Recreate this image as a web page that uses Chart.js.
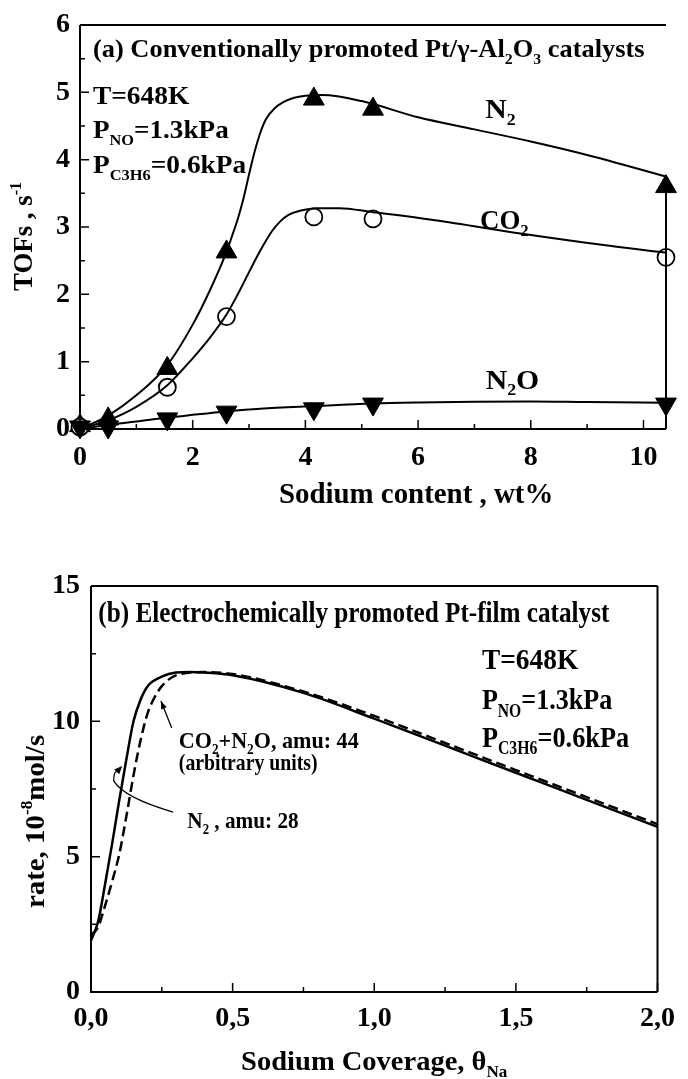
<!DOCTYPE html>
<html><head><meta charset="utf-8">
<script src="https://cdn.jsdelivr.net/npm/chart.js@4.4.1/dist/chart.umd.min.js"></script>
<style>
html,body{margin:0;padding:0;background:#fff;}
#wrap{position:relative;width:688px;height:1079px;overflow:hidden;background:#fff;}
.c{position:absolute;left:0;width:688px;}
</style></head><body>
<div id="wrap">
<div class="c" style="top:0;height:520px"><canvas id="ca"></canvas></div>
<div class="c" style="top:540px;height:539px"><canvas id="cb"></canvas></div>
</div>
<script>
// ---------- data: panel (a) ----------
const naContent = [0, 0.5, 1.55, 2.6, 4.15, 5.2, 10.4];
const n2Tof  = [0.05, 0.15, 0.9, 2.63, 4.9, 4.75, 3.6];
const co2Tof = [0.03, null, 0.62, 1.67, 3.15, 3.12, 2.55];
const n2oTof = [0.03, 0.03, 0.15, 0.25, 0.3, 0.37, 0.37];

const n2FitX  = [0, 0.5, 1.0, 1.55, 2.0, 2.3, 2.6, 2.7, 2.8, 2.9, 3.0, 3.1, 3.2, 3.3, 3.45, 3.6, 3.8, 4.0, 4.3, 5.0, 6.0, 7.0, 8.0, 9.0, 10.4];
const n2FitY  = [0, 0.2, 0.5, 0.95, 1.55, 2.05, 2.63, 2.87, 3.12, 3.42, 3.78, 4.12, 4.4, 4.6, 4.76, 4.85, 4.92, 4.95, 4.96, 4.87, 4.63, 4.45, 4.27, 4.07, 3.75];
const co2FitX = [0, 0.5, 1.0, 1.55, 2.0, 2.3, 2.6, 2.8, 3.0, 3.2, 3.4, 3.55, 3.7, 3.9, 4.2, 4.6, 5.2, 6.3, 7.85, 9.4, 10.4];
const co2FitY = [0, 0.13, 0.33, 0.65, 1.05, 1.35, 1.7, 2.0, 2.33, 2.65, 2.93, 3.08, 3.18, 3.24, 3.28, 3.28, 3.22, 3.1, 2.9, 2.72, 2.62];
const n2oFitX = [0, 0.5, 1.0, 1.55, 2.0, 2.6, 3.2, 4.15, 5.2, 6.0, 7.0, 8.0, 9.0, 10.4];
const n2oFitY = [0, 0.06, 0.11, 0.17, 0.21, 0.26, 0.3, 0.34, 0.38, 0.395, 0.405, 0.41, 0.4, 0.39];

const xTicksA = [0, 2, 4, 6, 8, 10];
const xMinorA = [1, 3, 5, 7, 9];
const yTicksA = [0, 1, 2, 3, 4, 5, 6];
const yMinorA = [0.5, 1.5, 2.5, 3.5, 4.5, 5.5];

// ---------- data: panel (b) ----------
const n2RateX  = [0, 0.025, 0.05, 0.075, 0.1, 0.125, 0.15, 0.175, 0.2, 0.25, 0.3, 0.35, 0.4, 0.5, 0.75, 1.0, 1.25, 1.5, 1.75, 2.0];
const n2RateY  = [1.9, 2.6, 4.0, 5.5, 7.1, 8.6, 10.0, 10.8, 11.3, 11.65, 11.8, 11.82, 11.8, 11.7, 11.05, 10.1, 9.1, 8.1, 7.1, 6.1];
const co2RateX = [0, 0.025, 0.05, 0.075, 0.1, 0.125, 0.15, 0.175, 0.2, 0.225, 0.25, 0.275, 0.3, 0.35, 0.4, 0.5, 0.75, 1.0, 1.25, 1.5, 1.75, 2.0];
const co2RateY = [2.1, 2.4, 3.2, 4.1, 5.1, 6.5, 8.0, 9.3, 10.3, 10.9, 11.3, 11.55, 11.7, 11.8, 11.82, 11.75, 11.1, 10.2, 9.2, 8.2, 7.2, 6.2];

const xTicksB = [0, 0.5, 1.0, 1.5, 2.0];
const xMinorB = [0.25, 0.75, 1.25, 1.75];
const yTicksB = [0, 5, 10, 15];
const yMinorB = [2.5, 7.5, 12.5];

// ---------- helpers ----------
const FONT = '"Liberation Serif", "Times New Roman", serif';
const pts = (xs, ys) => xs.map((x, i) => ({x, y: ys[i]}));

function richWidth(ctx, segs, size) {
  let w = 0;
  for (const [t, k] of segs) {
    ctx.font = 'bold ' + (k ? size * 0.6 : size) + 'px ' + FONT;
    w += ctx.measureText(t).width;
  }
  return w;
}
function drawRich(ctx, segs, size, x, y, targetW, align, rot) {
  const w = richWidth(ctx, segs, size);
  const sx = targetW ? targetW / w : 1;
  ctx.save();
  ctx.translate(x, y);
  if (rot) ctx.rotate(rot);
  ctx.scale(sx, 1);
  let cx = align === 'center' ? -w / 2 : 0;
  ctx.fillStyle = '#000';
  ctx.textBaseline = 'alphabetic';
  ctx.textAlign = 'left';
  for (const [t, k] of segs) {
    const s = k ? size * 0.6 : size;
    ctx.font = 'bold ' + s + 'px ' + FONT;
    const dy = k === 'b' ? size * 0.25 : (k === 'p' ? -size * 0.42 : 0);
    ctx.fillText(t, cx, dy);
    cx += ctx.measureText(t).width;
  }
  ctx.restore();
}

function framePlugin(cfg) {
  return {
    id: 'frame_' + cfg.name,
    afterDraw(chart) {
      const ctx = chart.ctx, a = chart.chartArea;
      const xs = chart.scales.x, ys = chart.scales.y;
      ctx.save();
      ctx.strokeStyle = '#000';
      ctx.lineWidth = 2;
      ctx.beginPath();
      ctx.moveTo(a.left, a.top); ctx.lineTo(a.left, a.bottom); ctx.lineTo(a.right, a.bottom);
      ctx.moveTo(a.left, a.top); ctx.lineTo(a.right, a.top);
      if (cfg.fullBox) { ctx.moveTo(a.right, a.top); ctx.lineTo(a.right, a.bottom); }
      ctx.stroke();
      ctx.lineWidth = 1.5;
      ctx.beginPath();
      const tick = (vals, len, axis) => {
        for (const v of vals) {
          if (axis === 'x') { const p = xs.getPixelForValue(v); ctx.moveTo(p, a.bottom); ctx.lineTo(p, a.bottom - len); }
          else { const p = ys.getPixelForValue(v); ctx.moveTo(a.left, p); ctx.lineTo(a.left + len, p); }
        }
      };
      tick(cfg.xMaj, 9, 'x'); tick(cfg.xMin, 5, 'x');
      tick(cfg.yMaj, 9, 'y'); tick(cfg.yMin, 5, 'y');
      ctx.stroke();
      for (const t of cfg.texts) {
        if (t.rot) {
          const px = xs.getPixelForValue(t.x) + t.size * 0.35;
          const y0 = ys.getPixelForValue(t.y0), y1 = ys.getPixelForValue(t.y1);
          drawRich(ctx, t.segs, t.size, px, (y0 + y1) / 2, Math.abs(y0 - y1), 'center', -Math.PI / 2);
        } else {
          const x0 = xs.getPixelForValue(t.x0), x1 = xs.getPixelForValue(t.x1);
          drawRich(ctx, t.segs, t.size, x0, ys.getPixelForValue(t.y), x1 - x0, 'left');
        }
      }
      if (cfg.extra) cfg.extra(chart, ctx, xs, ys);
      ctx.restore();
    }
  };
}

function axisX(min, max, ticks, fmt, height, pad) {
  return {
    type: 'linear', min, max,
    afterBuildTicks: s => { s.ticks = ticks.map(v => ({value: v})); },
    afterFit: s => { s.height = height; },
    grid: {display: false, drawTicks: false},
    border: {display: false},
    ticks: {color: '#000', font: {family: FONT, size: 28, weight: 'bold', lineHeight: 1}, padding: pad,
            maxRotation: 0, autoSkip: false, callback: fmt}
  };
}
function axisY(min, max, ticks, width, pad) {
  return {
    type: 'linear', min, max,
    afterBuildTicks: s => { s.ticks = ticks.map(v => ({value: v})); },
    afterFit: s => { s.width = width; },
    grid: {display: false, drawTicks: false},
    border: {display: false},
    ticks: {color: '#000', font: {family: FONT, size: 28, weight: 'bold', lineHeight: 1}, padding: pad,
            autoSkip: false, callback: v => String(v)}
  };
}

const fitLine = (data) => ({type: 'line', data, borderColor: '#000', borderWidth: 2, pointRadius: 0,
  cubicInterpolationMode: 'monotone', fill: false, clip: false});

// ---------- panel (a) ----------
const textsA = [
  {segs: [['(a) Conventionally promoted Pt/γ-Al', ''], ['2', 'b'], ['O', ''], ['3', 'b'], [' catalysts', '']], x0: 0.23, x1: 10.02, y: 5.52, size: 26},
  {segs: [['T=648K', '']], x0: 0.23, x1: 1.94, y: 4.83, size: 26},
  {segs: [['P', ''], ['NO', 'b'], ['=1.3kPa', '']], x0: 0.23, x1: 2.64, y: 4.32, size: 26},
  {segs: [['P', ''], ['C3H6', 'b'], ['=0.6kPa', '']], x0: 0.23, x1: 2.95, y: 3.8, size: 26},
  {segs: [['N', ''], ['2', 'b']], x0: 7.19, x1: 7.73, y: 4.62, size: 27},
  {segs: [['CO', ''], ['2', 'b']], x0: 7.1, x1: 7.96, y: 2.97, size: 27},
  {segs: [['N', ''], ['2', 'b'], ['O', '']], x0: 7.2, x1: 8.15, y: 0.6, size: 27},
  {segs: [['Sodium content , wt%', '']], x0: 3.53, x1: 8.4, y: -1.1, size: 29},
  {rot: true, segs: [['TOFs , s', ''], ['-1', 'p']], x: -1.02, y0: 2.05, y1: 3.67, size: 28}
];

new Chart(document.getElementById('ca'), {
  data: {datasets: [
    fitLine(pts(n2FitX, n2FitY)),
    fitLine(pts(co2FitX, co2FitY)),
    fitLine(pts(n2oFitX, n2oFitY)),
    {type: 'line', data: [{x: naContent[6], y: 0}, {x: naContent[6], y: n2Tof[6]}], borderColor: '#000', borderWidth: 2, pointRadius: 0, clip: false},
    {type: 'scatter', data: pts(naContent, n2oTof).filter(p => p.y !== null), pointStyle: 'triangle', rotation: 180, pointRadius: 12,
      backgroundColor: '#000', borderColor: '#000', borderWidth: 1, clip: false},
    {type: 'scatter', data: pts(naContent, co2Tof).filter(p => p.y !== null), pointStyle: 'circle', pointRadius: 8.5,
      backgroundColor: '#fff', borderColor: '#000', borderWidth: 1.8, clip: false},
    {type: 'scatter', data: pts(naContent, n2Tof).filter(p => p.y !== null), pointStyle: 'triangle', pointRadius: 12,
      backgroundColor: '#000', borderColor: '#000', borderWidth: 1, clip: false}
  ]},
  options: {
    responsive: true, maintainAspectRatio: false, animation: false,
    layout: {padding: {left: 0, right: 22, top: 25, bottom: 0}},
    plugins: {legend: {display: false}, tooltip: {enabled: false}},
    scales: {
      x: axisX(0, 10.4, xTicksA, v => String(v), 91, 15),
      y: axisY(0, 6, yTicksA, 80, 10)
    }
  },
  plugins: [framePlugin({name: 'a', fullBox: false, xMaj: xTicksA, xMin: xMinorA, yMaj: yTicksA, yMin: yMinorA, texts: textsA})]
});

// ---------- panel (b) ----------
const textsB = [
  {segs: [['(b) Electrochemically promoted Pt-film catalyst', '']], x0: 0.026, x1: 1.83, y: 13.67, size: 30},
  {segs: [['T=648K', '']], x0: 1.38, x1: 1.72, y: 11.93, size: 30},
  {segs: [['P', ''], ['NO', 'b'], ['=1.3kPa', '']], x0: 1.38, x1: 1.84, y: 10.44, size: 30},
  {segs: [['P', ''], ['C3H6', 'b'], ['=0.6kPa', '']], x0: 1.38, x1: 1.9, y: 9.07, size: 30},
  {segs: [['CO', ''], ['2', 'b'], ['+N', ''], ['2', 'b'], ['O, amu: 44', '']], x0: 0.31, x1: 0.945, y: 9.0, size: 23},
  {segs: [['(arbitrary units)', '']], x0: 0.31, x1: 0.8, y: 8.2, size: 23},
  {segs: [['N', ''], ['2', 'b'], [' , amu: 28', '']], x0: 0.34, x1: 0.733, y: 6.05, size: 23},
  {segs: [['Sodium Coverage, θ', ''], ['Na', 'b']], x0: 0.53, x1: 1.47, y: -2.88, size: 28},
  {rot: true, segs: [['rate, 10', ''], ['-8', 'p'], ['mol/s', '']], x: -0.2, y0: 3.1, y1: 9.5, size: 28}
];

function arrowsB(chart, ctx, xs, ys) {
  const P = (x, y) => [xs.getPixelForValue(x), ys.getPixelForValue(y)];
  const head = (tip, from, len, wid) => {
    const dx = tip[0] - from[0], dy = tip[1] - from[1], L = Math.hypot(dx, dy);
    const ux = dx / L, uy = dy / L;
    ctx.beginPath();
    ctx.moveTo(tip[0], tip[1]);
    ctx.lineTo(tip[0] - ux * len - uy * wid, tip[1] - uy * len + ux * wid);
    ctx.lineTo(tip[0] - ux * len + uy * wid, tip[1] - uy * len - ux * wid);
    ctx.closePath(); ctx.fill();
  };
  ctx.strokeStyle = '#000'; ctx.fillStyle = '#000'; ctx.lineWidth = 1.3;
  const a0 = P(0.285, 9.75), a1 = P(0.247, 10.75);
  ctx.beginPath(); ctx.moveTo(a0[0], a0[1]); ctx.lineTo(a1[0], a1[1]); ctx.stroke();
  head(a1, a0, 8, 3);
  const c = [P(0.29, 6.65), P(0.19, 6.95), P(0.11, 7.3), P(0.08, 7.8), P(0.092, 8.15)];
  ctx.beginPath(); ctx.moveTo(c[0][0], c[0][1]);
  ctx.bezierCurveTo(c[1][0], c[1][1], c[2][0], c[2][1], c[3][0], c[3][1]);
  ctx.quadraticCurveTo(c[3][0], c[4][1], c[4][0], c[4][1]);
  ctx.stroke();
  head(P(0.11, 8.35), c[4], 8, 3.5);
}

new Chart(document.getElementById('cb'), {
  data: {datasets: [
    {type: 'line', data: pts(co2RateX, co2RateY), borderColor: '#000', borderWidth: 2.5, borderDash: [10, 5], pointRadius: 0,
      cubicInterpolationMode: 'monotone', fill: false},
    {type: 'line', data: pts(n2RateX, n2RateY), borderColor: '#000', borderWidth: 2.5, pointRadius: 0,
      cubicInterpolationMode: 'monotone', fill: false}
  ]},
  options: {
    responsive: true, maintainAspectRatio: false, animation: false,
    layout: {padding: {left: 0, right: 17, top: 46, bottom: 0}},
    plugins: {legend: {display: false}, tooltip: {enabled: false}},
    scales: {
      x: axisX(0, 2.0, xTicksB, v => v.toFixed(1).replace('.', ','), 87, 13),
      y: axisY(0, 15, yTicksB, 91, 11)
    }
  },
  plugins: [framePlugin({name: 'b', fullBox: true, xMaj: xTicksB, xMin: xMinorB, yMaj: yTicksB, yMin: yMinorB, texts: textsB, extra: arrowsB})]
});
</script>
</body></html>
